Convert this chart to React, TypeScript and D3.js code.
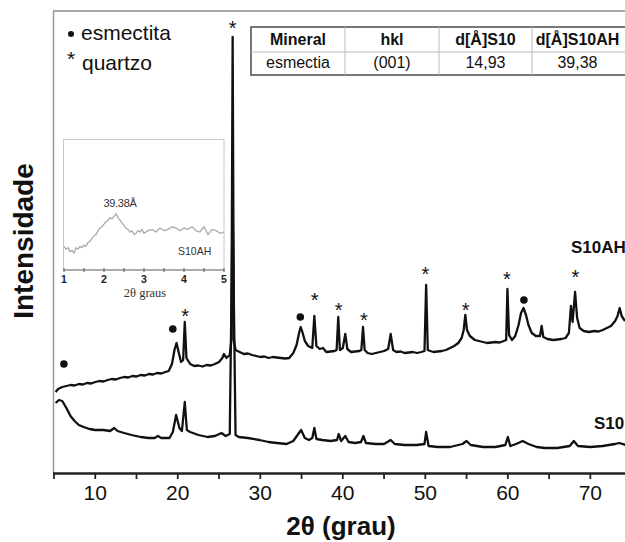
import React from "react";
import * as d3 from "d3";

// ---------- data ----------
const S10AH: [number, number][] = [
  [5.2, 810], [5.5, 840], [6, 860], [6.5, 870], [7, 880], [7.5, 875], [8, 890], [8.5, 885], [9, 900], [9.5, 895],
  [10, 910], [10.5, 920], [11, 915], [11.5, 930], [12, 940], [12.5, 935], [13, 950], [13.5, 960], [14, 955], [14.5, 970],
  [15, 965], [15.5, 980], [16, 975], [16.5, 990], [17, 985], [17.5, 1000], [18, 995], [18.5, 1010], [18.9, 1020],
  [19.3, 1090], [19.6, 1230], [19.85, 1300], [20.1, 1210], [20.4, 1110], [20.65, 1130], [20.85, 1510], [21.05, 1150],
  [21.5, 1090], [22, 1070], [22.5, 1075], [23, 1065], [23.5, 1080], [24, 1075], [24.5, 1090], [25, 1110], [25.4, 1150],
  [25.6, 1190], [25.9, 1150], [26.3, 1180], [26.5, 1330], [26.65, 4360], [26.8, 1330], [27, 1230], [27.5, 1210],
  [28, 1190], [28.5, 1195], [29, 1180], [29.5, 1170], [30, 1160], [30.5, 1165], [31, 1150], [31.5, 1160], [32, 1155],
  [32.5, 1150], [33, 1145], [33.5, 1150], [34, 1200], [34.4, 1280], [34.7, 1400], [34.9, 1460], [35.1, 1410],
  [35.4, 1320], [35.8, 1270], [36.3, 1250], [36.55, 1570], [36.8, 1270], [37.2, 1240], [37.6, 1250], [38, 1210],
  [38.5, 1215], [39, 1220], [39.25, 1230], [39.45, 1560], [39.65, 1230], [40, 1250], [40.3, 1390], [40.55, 1240],
  [41, 1210], [41.5, 1215], [42, 1220], [42.25, 1230], [42.45, 1460], [42.65, 1230], [43, 1200], [43.5, 1190],
  [44, 1200], [44.5, 1210], [45, 1220], [45.5, 1240], [45.8, 1390], [46.1, 1230], [46.5, 1210], [47, 1215],
  [47.5, 1200], [48, 1205], [48.5, 1210], [49, 1200], [49.5, 1210], [49.9, 1220], [50.1, 1880], [50.3, 1230],
  [50.6, 1220], [51, 1210], [51.5, 1215], [52, 1220], [52.5, 1230], [53, 1250], [53.5, 1270], [54, 1300],
  [54.4, 1350], [54.65, 1430], [54.85, 1580], [55.05, 1430], [55.4, 1370], [56, 1330], [56.5, 1320], [57, 1310],
  [57.5, 1300], [58, 1305], [58.5, 1310], [59, 1305], [59.5, 1320], [59.8, 1330], [59.95, 1840], [60.15, 1380],
  [60.5, 1330], [60.9, 1370], [61.3, 1480], [61.6, 1600], [61.9, 1650], [62.2, 1580], [62.5, 1480], [62.9, 1400],
  [63.4, 1370], [63.9, 1370], [64.1, 1470], [64.3, 1360], [64.8, 1340], [65.5, 1330], [66, 1335], [66.5, 1340],
  [67, 1350], [67.4, 1400], [67.65, 1670], [67.85, 1510], [68.15, 1810], [68.4, 1550], [68.7, 1450], [69.2, 1420],
  [69.8, 1410], [70.5, 1420], [71, 1415], [71.5, 1430], [72, 1450], [72.5, 1470], [73, 1520], [73.3, 1570],
  [73.55, 1650], [73.8, 1570], [74.2, 1520],
];

const S10: [number, number][] = [
  [5.2, 700], [5.6, 730], [6, 720], [6.5, 650], [7, 570], [7.5, 520], [8, 480], [8.6, 460], [9.3, 440], [10, 430],
  [11, 430], [11.8, 420], [12.3, 450], [12.7, 420], [13.5, 400], [14.4, 380], [15.5, 360], [16.5, 350], [17.2, 350],
  [17.6, 370], [18, 350], [19, 350], [19.4, 410], [19.8, 580], [20.2, 450], [20.5, 420], [20.85, 710], [21.1, 430],
  [21.5, 410], [22.5, 380], [23.6, 360], [24.5, 370], [25.3, 400], [25.8, 370], [26.3, 390], [26.65, 2700],
  [27, 380], [27.4, 360], [28.5, 350], [29.9, 330], [31, 310], [32, 300], [33.2, 290], [34, 320], [34.6, 390],
  [34.95, 430], [35.4, 350], [35.9, 330], [36.3, 350], [36.55, 450], [36.8, 340], [37.5, 330], [38.5, 320],
  [39.3, 330], [39.5, 390], [39.8, 320], [40.3, 370], [40.7, 310], [41.5, 300], [42.2, 310], [42.5, 370],
  [42.8, 300], [44, 290], [45, 290], [45.8, 330], [46.3, 290], [47.5, 280], [49, 280], [49.9, 290], [50.1, 410],
  [50.4, 270], [51.5, 260], [53, 260], [54.5, 290], [55, 320], [55.5, 280], [57, 260], [58.5, 260], [59.7, 280],
  [60, 360], [60.3, 270], [61, 290], [61.8, 320], [62.5, 290], [63.5, 260], [64.5, 250], [66, 250], [67.5, 270],
  [68, 320], [68.5, 270], [70, 260], [71.5, 270], [73, 290], [73.5, 300], [74.3, 280],
];

const INSET_S10AH: [number, number][] = [
  [1.0, 18], [1.05, 16], [1.1, 17], [1.15, 14], [1.2, 15], [1.25, 13], [1.3, 17], [1.35, 16], [1.4, 18], [1.45, 17],
  [1.5, 19], [1.55, 18], [1.6, 21], [1.65, 22], [1.7, 24], [1.75, 26], [1.8, 27], [1.85, 30], [1.9, 32], [1.95, 33],
  [2.0, 35], [2.05, 37], [2.1, 38], [2.15, 40], [2.2, 39], [2.25, 41], [2.3, 43], [2.35, 40], [2.4, 38], [2.45, 36],
  [2.5, 34], [2.55, 32], [2.6, 31], [2.65, 29], [2.7, 30], [2.75, 27], [2.8, 28], [2.85, 30], [2.9, 29], [2.95, 31],
  [3.0, 28], [3.1, 30], [3.2, 31], [3.3, 29], [3.4, 32], [3.5, 30], [3.6, 31], [3.7, 33], [3.8, 32], [3.9, 30],
  [4.0, 32], [4.1, 31], [4.2, 33], [4.3, 30], [4.4, 29], [4.5, 33], [4.6, 27], [4.7, 31], [4.8, 30], [4.9, 28], [5.0, 29],
];

// markers: [2θ, intensity, type]
const MARKERS: [number, number, "smectite" | "quartz"][] = [
  [6.2, 1090, "smectite"], [19.4, 1440, "smectite"], [20.9, 1620, "quartz"], [26.65, 4500, "quartz"],
  [34.85, 1560, "smectite"], [36.6, 1780, "quartz"], [39.5, 1680, "quartz"], [42.55, 1580, "quartz"],
  [50.0, 2040, "quartz"], [54.9, 1680, "quartz"], [59.9, 1990, "quartz"], [61.95, 1730, "smectite"],
  [68.2, 2010, "quartz"],
];

const MAJOR_TICKS = [10, 20, 30, 40, 50, 60, 70];
const MINOR_TICKS = [5, 15, 25, 35, 45, 55, 65];
const INSET_TICKS = [1, 2, 3, 4, 5];
const INSET_MINOR = [1.5, 2.5, 3.5, 4.5];

const TABLE_HEAD = ["Mineral", "hkl", "d[Å]S10", "d[Å]S10AH"];
const TABLE_ROW = ["esmectia", "(001)", "14,93", "39,38"];

const FONT = "'Liberation Sans', Arial, Helvetica, sans-serif";
const SERIF = "'Liberation Serif', 'Times New Roman', serif";

export default function App() {
  const W = 625, H = 542;
  const x = d3.scaleLinear().domain([5, 74.2]).range([54, 625]);
  const y = d3.scaleLinear().domain([0, 4620]).range([473, 11]);
  const line = d3.line<[number, number]>().x((d) => x(d[0])).y((d) => y(d[1]));

  const ix = d3.scaleLinear().domain([1, 5]).range([64, 224]);
  const iy = d3.scaleLinear().domain([0, 100]).range([270, 139]);
  const iline = d3.line<[number, number]>().x((d) => ix(d[0])).y((d) => iy(d[1]));

  const colEdges = [251, 345, 439, 532, 627];

  return (
    <svg width={W} height={H} style={{ position: "absolute", left: 0, top: 0, display: "block", background: "#fff" }}
      fontFamily={FONT}>
      <defs>
        <clipPath id="plot"><rect x={54} y={11} width={571} height={462} /></clipPath>
      </defs>
      {/* frame */}
      <line x1={53} x2={625} y1={11} y2={11} stroke="#8a8a8a" strokeWidth={1.5} />
      <line x1={53.5} x2={53.5} y1={11} y2={473} stroke="#9a9a9a" strokeWidth={1.5} />

      {/* curves */}
      <g clipPath="url(#plot)">
        <path d={line(S10) || ""} fill="none" stroke="#111" strokeWidth={2.3} strokeLinejoin="round" />
        <path d={line(S10AH) || ""} fill="none" stroke="#111" strokeWidth={2.3} strokeLinejoin="round" />
      </g>

      {/* markers */}
      {MARKERS.map(([t, v, k], i) =>
        k === "smectite" ? (
          <circle key={i} cx={x(t)} cy={y(v)} r={3.8} fill="#111" />
        ) : (
          <text key={i} x={x(t)} y={y(v) + 11.5} fontSize={20} textAnchor="middle" fill="#111">*</text>
        )
      )}

      {/* bottom axis */}
      <line x1={53} x2={625} y1={473.5} y2={473.5} stroke="#222" strokeWidth={2.5} />
      {[...MAJOR_TICKS, ...MINOR_TICKS].map((t) => (
        <line key={"t" + t} x1={x(t)} x2={x(t)} y1={473} y2={479} stroke="#222" strokeWidth={1.8} />
      ))}
      {MAJOR_TICKS.map((t) => (
        <text key={"l" + t} x={x(t)} y={500} fontSize={21} textAnchor="middle" fill="#111">{t}</text>
      ))}
      <text x={341} y={535} fontSize={26} fontWeight="bold" textAnchor="middle" fill="#111">2θ (grau)</text>
      <text transform="translate(33,241) rotate(-90)" fontSize={28} fontWeight="bold" textAnchor="middle" fill="#111">Intensidade</text>

      {/* series labels */}
      <text x={571} y={253} fontSize={17} fontWeight="bold" fill="#111">S10AH</text>
      <text x={594} y={429} fontSize={17} fontWeight="bold" fill="#111">S10</text>

      {/* legend */}
      <circle cx={71} cy={34} r={3} fill="#111" />
      <text x={81} y={40} fontSize={21} fill="#111">esmectita</text>
      <text x={71} y={66} fontSize={21} textAnchor="middle" fill="#111">*</text>
      <text x={82} y={70} fontSize={21} fill="#111">quartzo</text>

      {/* table */}
      <rect x={251} y={27} width={376} height={48} fill="#fff" stroke="#555" strokeWidth={1.6} />
      <line x1={251} x2={627} y1={52} y2={52} stroke="#bbb" strokeWidth={1} />
      {colEdges.slice(1, 4).map((c) => (
        <line key={"c" + c} x1={c} x2={c} y1={27} y2={75} stroke="#bbb" strokeWidth={1} />
      ))}
      {TABLE_HEAD.map((h, i) => (
        <text key={"h" + i} x={(colEdges[i] + colEdges[i + 1]) / 2 - (i === 3 ? 2 : 0)} y={45} fontSize={16}
          fontWeight="bold" textAnchor="middle" fill="#111">{h}</text>
      ))}
      {TABLE_ROW.map((h, i) => (
        <text key={"r" + i} x={(colEdges[i] + colEdges[i + 1]) / 2 - (i === 3 ? 2 : 0)} y={68} fontSize={16}
          textAnchor="middle" fill="#111">{h}</text>
      ))}

      {/* inset */}
      <rect x={63.5} y={139.5} width={160.5} height={130.5} fill="#fff" stroke="#c8c8c8" strokeWidth={1} />
      <line x1={63.5} x2={224} y1={270} y2={270} stroke="#777" strokeWidth={1.2} />
      {[...INSET_TICKS, ...INSET_MINOR].map((t) => (
        <line key={"it" + t} x1={ix(t)} x2={ix(t)} y1={268} y2={272} stroke="#555" strokeWidth={1} />
      ))}
      {INSET_TICKS.map((t) => (
        <text key={"il" + t} x={ix(t)} y={283} fontSize={10.5} fontWeight="bold" textAnchor="middle" fill="#222">{t}</text>
      ))}
      <text x={145} y={297} fontSize={12.5} fontFamily={SERIF} textAnchor="middle" fill="#333">2θ graus</text>
      <path d={iline(INSET_S10AH) || ""} fill="none" stroke="#aaa" strokeWidth={1.3} />
      <text x={120} y={207} fontSize={11} textAnchor="middle" fill="#333" letterSpacing={-0.3}>39.38Å</text>
      <text x={178} y={255} fontSize={10.5} fill="#333">S10AH</text>
    </svg>
  );
}
